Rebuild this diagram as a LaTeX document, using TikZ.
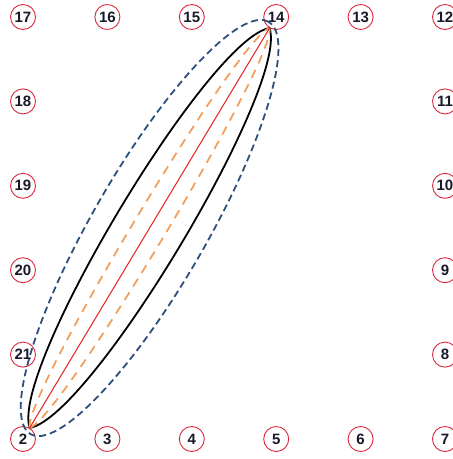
\documentclass[tikz,border=0pt]{standalone}
\usepackage{fontspec}
\setmainfont{Liberation Sans}
\usetikzlibrary{calc}
\definecolor{numred}{RGB}{220,40,60}
\definecolor{lineblue}{RGB}{45,80,125}
\definecolor{lineorange}{RGB}{240,160,95}
\definecolor{linered}{RGB}{230,30,30}
\definecolor{numtext}{RGB}{25,25,40}
\begin{document}
\begin{tikzpicture}[x=1pt,y=1pt,
  num/.style={circle, draw=numred, line width=0.9pt, minimum size=25pt, inner sep=0pt,
    font=\fontsize{15}{15}\selectfont\bfseries, text=numtext},
  blackarc/.style={draw=black, line width=1.8pt},
  orangedash/.style={draw=lineorange, line width=1.8pt, dash pattern=on 9pt off 7pt},
  bluedash/.style={draw=lineblue, line width=1.8pt, dash pattern=on 7pt off 4pt},
  redline/.style={draw=linered, line width=1pt}]
\useasboundingbox (0,0) rectangle (453,-459);
% bottom row
\node[num] (n2) at (23,-439) {2};
\node[num] (n3) at (107.4,-439) {3};
\node[num] (n4) at (191.8,-439) {4};
\node[num] (n5) at (276.2,-439) {5};
\node[num] (n6) at (360.6,-439) {6};
\node[num] (n7) at (445,-439) {7};
% right column
\node[num] (n8) at (445,-354.6) {8};
\node[num] (n9) at (445,-270.2) {9};
\node[num] (n10) at (445,-185.8) {10};
\node[num] (n11) at (445,-101.4) {11};
\node[num] (n12) at (445,-17) {12};
% top row
\node[num] (n13) at (360.6,-17) {13};
\node[num] (n14) at (276.2,-17) {14};
\node[num] (n15) at (191.8,-17) {15};
\node[num] (n16) at (107.4,-17) {16};
\node[num] (n17) at (23,-17) {17};
% left column
\node[num] (n18) at (23,-101.4) {18};
\node[num] (n19) at (23,-185.8) {19};
\node[num] (n20) at (23,-270.2) {20};
\node[num] (n21) at (23,-354.6) {21};
% end points and control points
\coordinate (pa) at (n2.59.04);
\coordinate (pb) at (n14.239.04);
\coordinate (mid) at ($(pa)!0.5!(pb)$);
\begin{scope}[shift={(pa)}, rotate=59.04]
  \coordinate (bl1) at (40,47);   \coordinate (bl2) at (427,47);
  \coordinate (br1) at (40,-47);  \coordinate (br2) at (427,-47);
  \coordinate (ol1) at (25,22);   \coordinate (ol2) at (442,22);
  \coordinate (or1) at (25,-22);  \coordinate (or2) at (442,-22);
\end{scope}
\begin{scope}[shift={(mid)}, rotate=60]
  \draw[bluedash] (0,0) ellipse (238 and 57);
\end{scope}
\draw[blackarc] (pa) .. controls (bl1) and (bl2) .. (pb);
\draw[blackarc] (pa) .. controls (br1) and (br2) .. (pb);
\draw[orangedash] (pa) .. controls (ol1) and (ol2) .. (pb);
\draw[orangedash] (pa) .. controls (or1) and (or2) .. (pb);
\draw[redline] (pa) -- (pb);
\end{tikzpicture}
\end{document}
